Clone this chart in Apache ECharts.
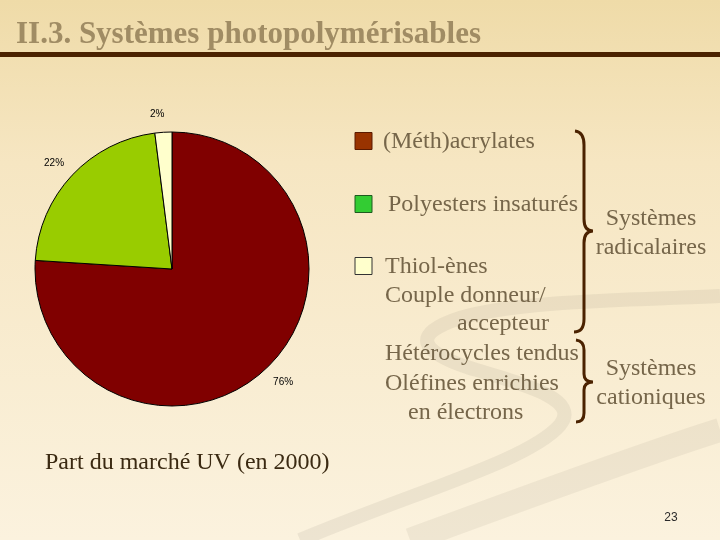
<!DOCTYPE html>
<html>
<head>
<meta charset="utf-8">
<script src="https://cdn.jsdelivr.net/npm/echarts@6/dist/echarts.min.js"></script>
<style>html,body{margin:0;padding:0;}#c{width:720px;height:540px;}</style>
</head>
<body>
<div id="c"></div>
<script>
// ---- data ----
const categories = ['(Méth)acrylates', 'Polyesters insaturés', 'Thiol-ènes'];
const shares = [76, 22, 2];
const titleText = 'II.3. Systèmes photopolymérisables';
const captionText = 'Part du marché UV (en 2000)';
const extraLines = ['Couple donneur/', 'accepteur', 'Hétérocycles tendus', 'Oléfines enrichies', 'en électrons'];
const groupLabels = [['Systèmes', 'radicalaires'], ['Systèmes', 'cationiques']];
const pageNumber = '23';

// ---- styles ----
const pieColors = ['#800000', '#99CC00', '#FFFFCC'];
const legendColors = ['#993300', '#33CC33', '#FFFFCC'];
const legendBorders = ['#5a1a00', '#1f5a1f', '#333333'];
const serif = '"Liberation Serif", "Times New Roman", serif';
const txtCol = '#76664A';

// custom path shapes (decoration + braces)
const paths = {
  swirlA: 'M720,296 C640,300 520,300 460,318 C410,334 420,352 470,368 C530,386 580,400 560,425 C530,460 420,490 300,540',
  swirlB: 'M720,430 C640,455 520,500 410,540',
  braceR: 'M575,131 Q584,132 584,145 L584,219 Q584,231 593,231 Q584,231 584,243 L584,319 Q584,332 574,332',
  braceC: 'M576,340 Q584,341 584,350 L584,374 Q584,382 593,382 Q584,382 584,390 L584,413 Q584,422 576,422'
};
Object.keys(paths).forEach(k => {
  echarts.graphic.registerShape(k, echarts.graphic.extendPath(paths[k], {}));
});

const chart = echarts.init(document.getElementById('c'), null, {renderer: 'canvas'});

const graphics = [];
graphics.push({type: 'swirlA', silent: true, z: 0, shape: {},
  style: {fill: null, stroke: 'rgba(150,140,120,0.13)', lineWidth: 14}});
graphics.push({type: 'swirlB', silent: true, z: 0, shape: {},
  style: {fill: null, stroke: 'rgba(150,140,120,0.11)', lineWidth: 24}});
// title
graphics.push({type: 'text', x: 16, y: 50, z: 5,
  style: {text: titleText, font: 'bold 31px ' + serif, fill: '#A08C64', verticalAlign: 'bottom'}});
graphics.push({type: 'rect', shape: {x: 0, y: 52, width: 720, height: 5}, style: {fill: '#4B2200'}, z: 5});

// legend squares + labels
const legendY = [141, 204, 266];
const legendX = [383, 388, 385];
categories.forEach((c, i) => {
  graphics.push({type: 'rect', z: 5,
    shape: {x: 355, y: legendY[i] - 8.5, width: 17, height: 17},
    style: {fill: legendColors[i], stroke: legendBorders[i], lineWidth: 1}});
  graphics.push({type: 'text', z: 5, x: legendX[i], y: legendY[i] + 1,
    style: {text: c, font: '24px ' + serif, fill: txtCol, verticalAlign: 'middle', align: 'left'}});
});
const extraPos = [[385, 295], [457, 323], [385, 353], [385, 383], [408, 412]];
extraLines.forEach((t, i) => {
  graphics.push({type: 'text', z: 5, x: extraPos[i][0], y: extraPos[i][1] + 1,
    style: {text: t, font: '24px ' + serif, fill: txtCol, verticalAlign: 'middle', align: 'left'}});
});
const groupPos = [[651, 218, 247], [651, 368, 397]];
groupLabels.forEach((g, i) => {
  graphics.push({type: 'text', z: 5, x: groupPos[i][0], y: groupPos[i][1] + 1,
    style: {text: g[0], font: '24px ' + serif, fill: txtCol, verticalAlign: 'middle', align: 'center'}});
  graphics.push({type: 'text', z: 5, x: groupPos[i][0], y: groupPos[i][2] + 1,
    style: {text: g[1], font: '24px ' + serif, fill: txtCol, verticalAlign: 'middle', align: 'center'}});
});
// braces
graphics.push({type: 'braceR', z: 5, shape: {}, style: {fill: null, stroke: '#4B2200', lineWidth: 3}});
graphics.push({type: 'braceC', z: 5, shape: {}, style: {fill: null, stroke: '#4B2200', lineWidth: 3}});
// caption & page number
graphics.push({type: 'text', z: 5, x: 45, y: 463,
  style: {text: captionText, font: '24px ' + serif, fill: '#3B2A12', verticalAlign: 'middle'}});
graphics.push({type: 'text', z: 5, x: 671, y: 518,
  style: {text: pageNumber, font: '12px "Liberation Sans", Arial, sans-serif', fill: '#2a2a2a', verticalAlign: 'middle', align: 'center'}});

const option = {
  backgroundColor: {
    type: 'linear', x: 0, y: 0, x2: 0, y2: 1,
    colorStops: [
      {offset: 0, color: '#EFDBA8'},
      {offset: 0.3, color: '#F6E6C2'},
      {offset: 1, color: '#FBF2DE'}
    ]
  },
  animation: false,
  graphic: graphics,
  series: [{
    type: 'pie',
    center: [172, 269],
    radius: 137,
    startAngle: 90,
    clockwise: true,
    avoidLabelOverlap: false,
    minShowLabelAngle: 0,
    itemStyle: {borderColor: '#000', borderWidth: 1},
    label: {show: true, position: 'outside', formatter: '{c}%', color: '#000',
      fontFamily: '"Liberation Sans", Arial, sans-serif', fontSize: 10},
    labelLine: {show: false, length: 18, length2: 0},
    labelLayout: function (p) {
      // centre each label on the end of its (hidden) radial leader
      const w = p.labelRect.width / 2;
      return {dx: p.align === 'left' ? -w : (p.align === 'right' ? w : 0)};
    },
    emphasis: {disabled: true},
    data: categories.map((n, i) => ({name: n, value: shares[i], itemStyle: {color: pieColors[i]}}))
  }]
};
chart.setOption(option);
</script>
</body>
</html>
